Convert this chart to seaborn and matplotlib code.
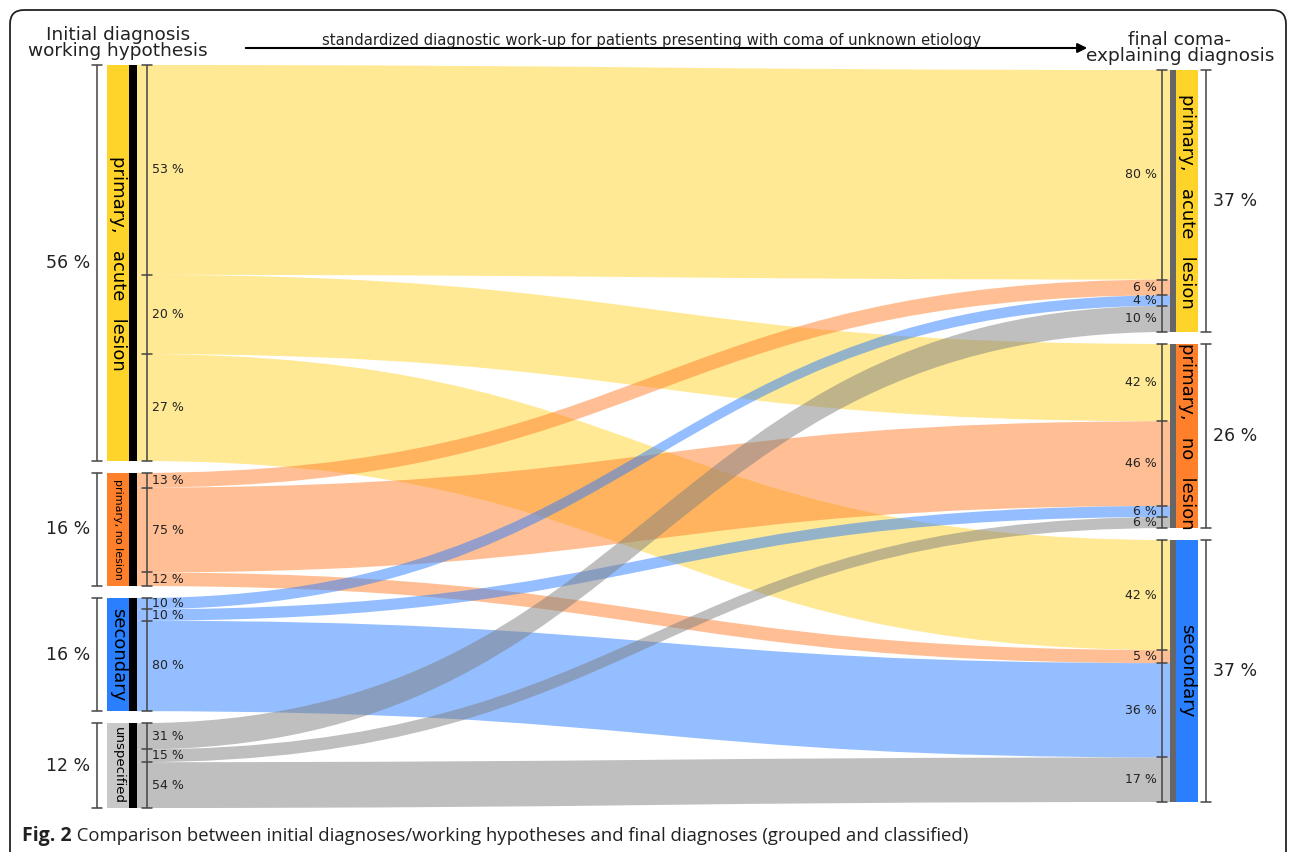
import numpy as np
import seaborn as sns
import matplotlib.pyplot as plt
from matplotlib.path import Path
from matplotlib.patches import PathPatch, Rectangle, FancyBboxPatch

# Data
left_groups = ["primary, acute lesion", "primary, no lesion", "secondary", "unspecified"]
left_share = [56, 16, 16, 12]
right_groups = ["primary, acute lesion", "primary, no lesion", "secondary"]
right_share = [37, 26, 37]
# where each initial group ended up (percent of the initial group)
out_split = [[53, 20, 27], [13, 75, 12], [10, 10, 80], [31, 15, 54]]
# what each final group came from (percent of the final group)
in_split = [[80, 6, 4, 10], [42, 46, 6, 6], [42, 5, 36, 17]]

left_labels = ["primary,   acute   lesion", "primary, no lesion", "secondary", "unspecified"]
right_labels = ["primary,   acute   lesion", "primary,   no   lesion", "secondary"]
left_label_size = [13, 8, 13, 9.5]

node_colors = ["#ffd42a", "#ff7f2a", "#2a7fff", "#c8c8c8"]
flow_colors = ["#ffd42a", "#ff7f2a", "#2a7fff", "#808080"]

sns.set_style("white")
plt.rcParams["font.family"] = ["DejaVu Sans"]

W, H = 1290, 852
fig = plt.figure(figsize=(W / 100, H / 100), dpi=100)
ax = fig.add_axes([0, 0, 1, 1])
ax.set_xlim(0, W)
ax.set_ylim(H, 0)
ax.axis("off")

# layout
gap = 12
L_top, L_bot = 65, 808
R_top, R_bot = 70, 802
xl_bar, xl_black, xl_flow = 107, 129, 137
xr_flow, xr_gray, xr_bar = 1170, 1176, 1198
xl_in, xl_out = 147, 97
xr_in, xr_out = 1162, 1206
tick = 5
txt = "#222222"


def stack(shares, top, bot):
    scale = (bot - top - gap * (len(shares) - 1)) / sum(shares)
    spans, y = [], top
    for s in shares:
        spans.append((y, y + s * scale))
        y += s * scale + gap
    return spans


def bracket(x, ys, lw=1.1, color="#444444"):
    ax.plot([x, x], [ys[0], ys[-1]], color=color, lw=lw, solid_capstyle="butt")
    for y in ys:
        ax.plot([x - tick, x + tick], [y, y], color=color, lw=lw)


L_spans = stack(left_share, L_top, L_bot)
R_spans = stack(right_share, R_top, R_bot)

# segment boundaries within each node
L_seg = []
for (a, b), split in zip(L_spans, out_split):
    c = np.concatenate([[0], np.cumsum(split)]) / sum(split)
    L_seg.append(a + c * (b - a))
R_seg = []
for (a, b), split in zip(R_spans, in_split):
    c = np.concatenate([[0], np.cumsum(split)]) / sum(split)
    R_seg.append(a + c * (b - a))

# ribbons
dx = (xr_flow - xl_flow) * 0.5
for i in range(len(left_groups)):
    for j in range(len(right_groups)):
        y0a, y0b = L_seg[i][j], L_seg[i][j + 1]
        y1a, y1b = R_seg[j][i], R_seg[j][i + 1]
        verts = [(xl_flow, y0a), (xl_flow + dx, y0a), (xr_flow - dx, y1a), (xr_flow, y1a),
                 (xr_flow, y1b), (xr_flow - dx, y1b), (xl_flow + dx, y0b), (xl_flow, y0b),
                 (xl_flow, y0a)]
        codes = [Path.MOVETO, Path.CURVE4, Path.CURVE4, Path.CURVE4,
                 Path.LINETO, Path.CURVE4, Path.CURVE4, Path.CURVE4, Path.CLOSEPOLY]
        ax.add_patch(PathPatch(Path(verts, codes), fc=flow_colors[i], ec="none", alpha=0.5))

# left nodes
for i, (a, b) in enumerate(L_spans):
    ax.add_patch(Rectangle((xl_bar, a), xl_black - xl_bar, b - a, fc=node_colors[i], ec="none"))
    ax.add_patch(Rectangle((xl_black, a), xl_flow - xl_black, b - a, fc="black", ec="none"))
    ax.text((xl_bar + xl_black) / 2, (a + b) / 2, left_labels[i], rotation=-90,
            ha="center", va="center", fontsize=left_label_size[i], color="black")
    bracket(xl_out, [a, b])
    ax.text(xl_out - 7, (a + b) / 2, f"{left_share[i]} %", ha="right", va="center",
            fontsize=12.5, color=txt)
    bracket(xl_in, L_seg[i])
    for k, v in enumerate(out_split[i]):
        ax.text(xl_in + 5, (L_seg[i][k] + L_seg[i][k + 1]) / 2, f"{v} %", ha="left",
                va="center", fontsize=9, color=txt)

# right nodes
for j, (a, b) in enumerate(R_spans):
    ax.add_patch(Rectangle((xr_flow, a), xr_gray - xr_flow, b - a, fc="#666666", ec="none"))
    ax.add_patch(Rectangle((xr_gray, a), xr_bar - xr_gray, b - a, fc=node_colors[j], ec="none"))
    ax.text((xr_gray + xr_bar) / 2, (a + b) / 2, right_labels[j], rotation=-90,
            ha="center", va="center", fontsize=13, color="black")
    bracket(xr_out, [a, b])
    ax.text(xr_out + 7, (a + b) / 2, f"{right_share[j]} %", ha="left", va="center",
            fontsize=12.5, color=txt)
    bracket(xr_in, R_seg[j])
    for k, v in enumerate(in_split[j]):
        ax.text(xr_in - 5, (R_seg[j][k] + R_seg[j][k + 1]) / 2, f"{v} %", ha="right",
                va="center", fontsize=9, color=txt)

# headers
ax.text(118, 43, "Initial diagnosis\nworking hypothesis", ha="center", va="center",
        fontsize=13.3, color=txt, linespacing=0.9)
ax.text(1180, 48, "final coma-\nexplaining diagnosis", ha="center", va="center",
        fontsize=13.3, color=txt, linespacing=0.9)
ax.annotate("", xy=(1090, 48), xytext=(243, 48),
            arrowprops=dict(arrowstyle="-|>", color="black", lw=1.5, mutation_scale=14))
ax.text(651, 40, "standardized diagnostic work-up for patients presenting with coma of unknown etiology",
        ha="center", va="center", fontsize=10.7, color=txt)

# frame and caption
ax.add_patch(FancyBboxPatch((10, 10), 1276, 880, boxstyle="round,pad=0,rounding_size=14",
                            fc="none", ec="#222222", lw=1.3, clip_on=False))
cap = ax.text(22, 836, "Fig. 2", ha="left", va="center", fontsize=14,
              fontweight="bold", family="Open Sans", color="#222222")
ax.annotate(" Comparison between initial diagnoses/working hypotheses and final diagnoses (grouped and classified)",
            xy=(1, 0.5), xycoords=cap, ha="left", va="center", fontsize=13.3,
            family="Open Sans", color="#222222")

fig.savefig("out.png", dpi=100)
